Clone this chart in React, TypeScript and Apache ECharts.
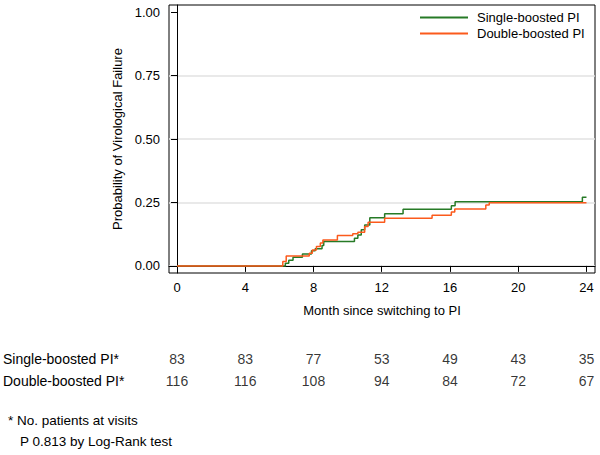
import React, { useEffect, useRef } from "react";
import * as echarts from "echarts";

// Kaplan-Meier step curves (month, cumulative probability of virological failure)
const singleBoosted: [number, number][] = [
  [0, 0], [6.35, 0.01], [6.55, 0.022], [6.8, 0.034], [7.35, 0.047], [7.88, 0.06],
  [8.1, 0.068], [8.5, 0.08], [8.6, 0.096], [10.4, 0.109], [10.6, 0.122], [10.8, 0.142],
  [11.0, 0.161], [11.3, 0.19], [12.17, 0.205], [13.25, 0.223], [16.08, 0.237],
  [16.3, 0.253], [23.76, 0.27], [24, 0.27],
];
const doubleBoosted: [number, number][] = [
  [0, 0], [6.2, 0.017], [6.4, 0.039], [7.75, 0.05], [7.93, 0.063], [8.17, 0.076],
  [8.4, 0.09], [8.55, 0.102], [9.4, 0.12], [10.3, 0.127], [10.6, 0.133], [11.0, 0.155],
  [11.2, 0.172], [12.17, 0.188], [14.95, 0.2], [16.08, 0.212], [16.28, 0.224],
  [18.1, 0.24], [18.3, 0.249], [24, 0.249],
];

const xTicks = [0, 4, 8, 12, 16, 20, 24];
const yTicks = [0, 0.25, 0.5, 0.75, 1];

const visitMonths = [0, 4, 8, 12, 16, 20, 24];
const rowLabels = ["Single-boosted PI*", "Double-boosted PI*"];
const singleAtRisk = [83, 83, 77, 53, 49, 43, 35];
const doubleAtRisk = [116, 116, 108, 94, 84, 72, 67];

const footnotes = ["* No. patients at visits", "P 0.813 by Log-Rank test"];

const FONT = "Liberation Sans, Arial, Helvetica, sans-serif";
const GREEN = "#267a26";
const ORANGE = "#fb5a1c";

export default function App() {
  const ref = useRef<HTMLDivElement>(null);

  useEffect(() => {
    if (!ref.current) return;
    const chart = echarts.init(ref.current, undefined, { renderer: "svg" });

    const tableData = [
      ...visitMonths.map((m, i) => [m, rowLabels[0], singleAtRisk[i]]),
      ...visitMonths.map((m, i) => [m, rowLabels[1], doubleAtRisk[i]]),
    ];

    const option: any = {
      animation: false,
      backgroundColor: "#fff",
      textStyle: { fontFamily: FONT, color: "#000" },
      grid: [
        {
          left: 169, top: 5, right: 5, height: 268,
          show: true, borderColor: "#000", borderWidth: 1, backgroundColor: "transparent",
        },
        { left: 169, top: 348, right: 5, height: 44 },
      ],
      legend: {
        data: ["Single-boosted PI", "Double-boosted PI"],
        orient: "vertical",
        left: 420,
        top: 10,
        padding: 0,
        itemGap: 1,
        itemWidth: 48,
        itemHeight: 2,
        icon: "rect",
        textStyle: { fontSize: 13, fontFamily: FONT, color: "#000", lineHeight: 15, padding: [0, 0, 0, 4] },
      },
      xAxis: [
        {
          type: "value",
          gridIndex: 0,
          min: -0.47,
          max: 24.5,
          name: "Month since switching to PI",
          nameLocation: "middle",
          nameGap: 31,
          nameTextStyle: { fontSize: 13, fontFamily: FONT, color: "#000" },
          axisLine: { show: true, lineStyle: { color: "#000", width: 1 } },
          axisTick: { show: true, inside: false, length: 6, customValues: xTicks, lineStyle: { color: "#000" } },
          axisLabel: { customValues: xTicks, margin: 8, fontSize: 13, fontFamily: FONT, color: "#000" },
          splitLine: { show: false },
        },
        {
          type: "value",
          gridIndex: 1,
          min: -0.47,
          max: 24.5,
          show: false,
        },
      ],
      yAxis: [
        {
          type: "value",
          gridIndex: 0,
          min: -0.028,
          max: 1.028,
          name: "Probability of Virological Failure",
          nameLocation: "middle",
          nameRotate: 90,
          nameGap: 40,
          nameTextStyle: { fontSize: 13, fontFamily: FONT, color: "#000" },
          axisLine: { show: true, lineStyle: { color: "#000", width: 1 } },
          axisTick: { show: true, inside: false, length: 6, customValues: yTicks, lineStyle: { color: "#000" } },
          axisLabel: {
            customValues: yTicks,
            margin: 9,
            fontSize: 13,
            fontFamily: FONT,
            color: "#000",
            formatter: (v: number) => v.toFixed(2),
          },
          splitLine: {
            show: true,
            lineStyle: { color: ["#e2e2e2", "#e2e2e2", "#e2e2e2", "#e2e2e2", "rgba(255,255,255,0)"], width: 1.5 },
          },
        },
        {
          type: "category",
          gridIndex: 1,
          inverse: true,
          data: rowLabels,
          axisLine: { show: false },
          axisTick: { show: false },
          splitLine: { show: false },
          axisLabel: { align: "left", margin: 166, fontSize: 14, fontFamily: FONT, color: "#000" },
        },
      ],
      series: [
        {
          name: "Single-boosted PI",
          type: "line",
          step: "end",
          xAxisIndex: 0,
          yAxisIndex: 0,
          data: singleBoosted,
          showSymbol: false,
          symbol: "none",
          color: GREEN,
          lineStyle: { color: GREEN, width: 1.5 },
        },
        {
          name: "Double-boosted PI",
          type: "line",
          step: "end",
          xAxisIndex: 0,
          yAxisIndex: 0,
          data: doubleBoosted,
          showSymbol: false,
          symbol: "none",
          color: ORANGE,
          lineStyle: { color: ORANGE, width: 1.5 },
        },
        {
          name: "At risk",
          type: "scatter",
          xAxisIndex: 1,
          yAxisIndex: 1,
          data: tableData,
          symbolSize: 1,
          itemStyle: { color: "rgba(0,0,0,0)" },
          label: {
            show: true,
            position: "inside",
            formatter: (p: any) => String(p.value[2]),
            fontSize: 14,
            fontFamily: FONT,
            color: "#000",
          },
        },
      ],
      graphic: footnotes.map((t, i) => ({
        type: "text",
        left: i === 0 ? 8 : 20,
        top: i === 0 ? 413 : 434,
        style: { text: t, fontSize: 13.5, fontFamily: FONT, fill: "#000" },
      })),
    };

    chart.setOption(option);
    return () => chart.dispose();
  }, []);

  return (
    <div
      ref={ref}
      style={{ position: "fixed", left: 0, top: 0, width: 600, height: 455, background: "#fff" }}
    />
  );
}
